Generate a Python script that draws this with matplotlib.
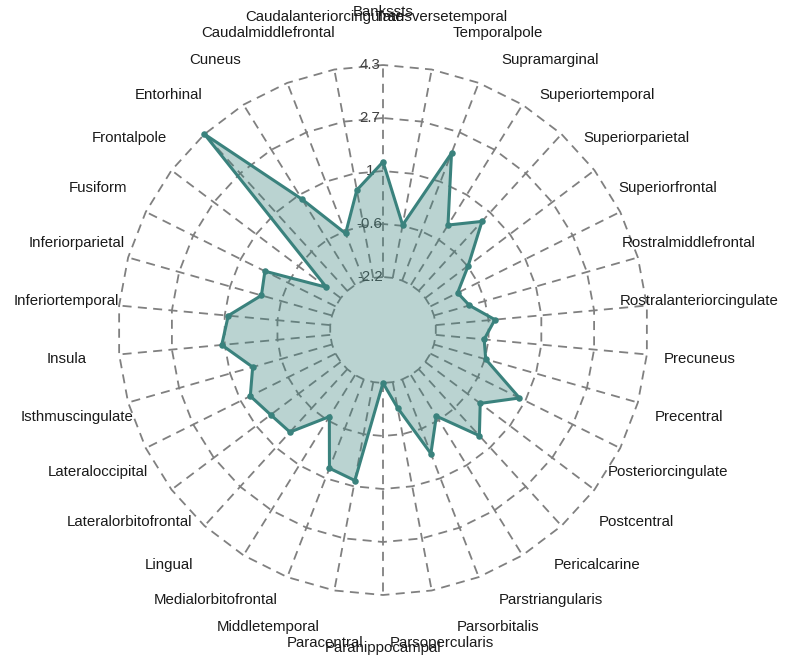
import numpy as np
import matplotlib
matplotlib.use("Agg")
import matplotlib.pyplot as plt

plt.rcParams['font.family'] = ['Liberation Sans', 'DejaVu Sans']

# regions, counter-clockwise from the top
regions = ['Bankssts', 'Caudalanteriorcingulate', 'Caudalmiddlefrontal', 'Cuneus',
           'Entorhinal', 'Frontalpole', 'Fusiform', 'Inferiorparietal',
           'Inferiortemporal', 'Insula', 'Isthmuscingulate', 'Lateraloccipital',
           'Lateralorbitofrontal', 'Lingual', 'Medialorbitofrontal', 'Middletemporal',
           'Paracentral', 'Parahippocampal', 'Parsopercularis', 'Parsorbitalis',
           'Parstriangularis', 'Pericalcarine', 'Postcentral', 'Posteriorcingulate',
           'Precentral', 'Precuneus', 'Rostralanteriorcingulate', 'Rostralmiddlefrontal',
           'Superiorfrontal', 'Superiorparietal', 'Superiortemporal', 'Supramarginal',
           'Temporalpole', 'Transversetemporal']

values = [1.33, 0.54, -0.65, 0.89, 4.3, -1.65, 0.22, 0.05,
          0.94, 1.14, 0.33, 0.72, 0.49, 0.41, -0.70, 0.72,
          0.87, -2.2, -1.40, 0.24, -0.72, 0.56, -0.09, 0.85,
          -0.55, -0.71, -0.38, -1.07, -1.27, -0.55, 0.68, -0.04,
          1.99, -0.55]

vmin, vmax = -2.2, 4.3
axis_labels = ['-2.2', '-0.6', '1', '2.7', '4.3']
seg = 4

n = len(regions)
ang = np.pi / 2 + np.arange(n) * 2 * np.pi / n

fig = plt.figure(figsize=(7.86, 6.58), dpi=100)
ax = fig.add_axes([0, 0, 1, 1])
ax.set_xlim(-383 / 265, (786 - 383) / 265)
ax.set_ylim(-(658 - 330) / 265, 330 / 265)
ax.axis('off')

grid_col = '#808080'
dash = (0, (5, 3.5))

# rings (polygons) and spokes
for k in range(seg + 1):
    r = (k + 1) / (seg + 1)
    a = np.append(ang, ang[0])
    ax.plot(r * np.cos(a), r * np.sin(a), color=grid_col, lw=1.3,
            linestyle=dash, zorder=1)
r0 = 1 / (seg + 1)
for t in ang:
    ax.plot([r0 * np.cos(t), np.cos(t)], [r0 * np.sin(t), np.sin(t)],
            color=grid_col, lw=1.3, linestyle=dash, zorder=1)

# ring value labels
for k, lab in enumerate(axis_labels):
    r = (k + 1) / (seg + 1)
    ax.text(-0.05, r, lab, ha='center', va='center', fontsize=10.8,
            color='#404040', zorder=2)

# region labels
for t, name in zip(ang, regions):
    ax.text(1.2 * np.cos(t), 1.2 * np.sin(t), name, ha='center', va='center',
            fontsize=10.8, color='#1a1a1a')

# data polygon
v = np.array(values)
rr = (1 + (v - vmin) / (vmax - vmin) * seg) / (seg + 1)
px = rr * np.cos(ang)
py = rr * np.sin(ang)
col = '#3a827d'
ax.fill(px, py, color=col, alpha=0.35, lw=0, zorder=3)
ax.plot(np.append(px, px[0]), np.append(py, py[0]), color=col, lw=2.2, zorder=4)
ax.scatter(px, py, s=22, color=col, zorder=5, linewidths=0)

fig.savefig('out.png', dpi=100)
